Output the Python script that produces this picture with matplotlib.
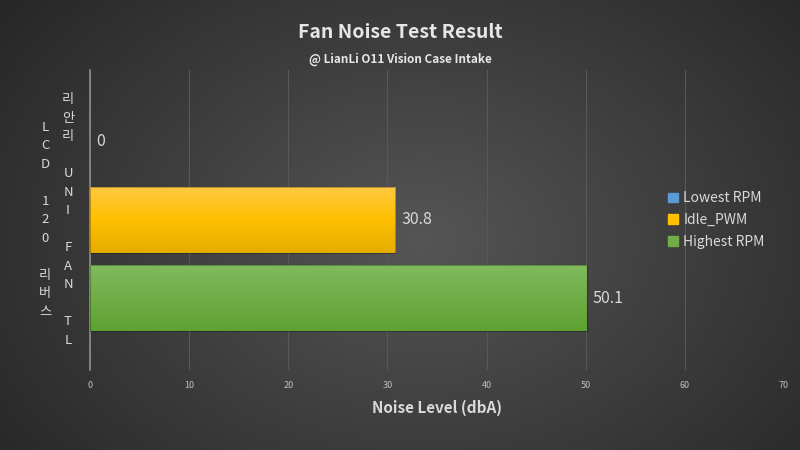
import numpy as np
import matplotlib.pyplot as plt
from matplotlib.colors import LinearSegmentedColormap

plt.rcParams['font.family'] = ['Noto Sans CJK KR', 'DejaVu Sans']

# Datos
category = "리안리 UNI FAN TL LCD 120 리버스"
series = ["Lowest RPM", "Idle_PWM", "Highest RPM"]
values = [0, 30.8, 50.1]
xticks = [0, 10, 20, 30, 40, 50, 60, 70]

# Colores (arriba, centro, abajo) del degradado de cada barra
colors = ["#5B9BD5", "#FFC000", "#70AD47"]
grads = [("#7fb3e3", "#5b9bd5", "#4a88c2"),
         ("#ffc845", "#ffc000", "#e6ad00"),
         ("#80bb5e", "#70ad47", "#5fa232")]
txt = "#d9d9d9"

fig = plt.figure(figsize=(8, 4.5), dpi=100)

# Fondo con degradado radial
bg = fig.add_axes([0, 0, 1, 1], zorder=-10)
yy, xx = np.mgrid[0:450, 0:800]
r = np.sqrt(((xx - 420) / 520) ** 2 + ((yy - 240) / 380) ** 2)
shade = np.clip(0.335 - 0.18 * r, 0.14, 0.35)
bg.imshow(np.dstack([shade] * 3), aspect='auto', extent=[0, 1, 0, 1])
bg.axis('off')

ax = fig.add_axes([0.1125, 0.1778, 0.8675, 0.6667])
ax.patch.set_alpha(0)

pos = np.arange(len(series))
bars = ax.barh(pos, values, height=0.85, color=colors, edgecolor='none', zorder=3)

# Degradado vertical dentro de cada barra
for b, g in zip(bars, grads):
    cmap = LinearSegmentedColormap.from_list('g', list(g))
    x0, y0 = b.get_x(), b.get_y()
    w, h = b.get_width(), b.get_height()
    if w <= 0:
        continue
    grad = np.linspace(0, 1, 100).reshape(-1, 1)
    im = ax.imshow(grad, cmap=cmap, aspect='auto', extent=[x0, x0 + w, y0 + h, y0],
                   zorder=4, interpolation='bilinear')
    im.set_clip_path(b)
    ax.add_patch(plt.Rectangle((x0, y0), w, h, fill=False, edgecolor='#00000040',
                               lw=0.8, zorder=5))

for p, v in zip(pos, values):
    ax.text(v + 0.6, p, f"{v:g}", va='center', ha='left', fontsize=11.5, color=txt, zorder=6)

ax.set_xlim(0, 70)
ax.set_ylim(2.92, -0.92)
ax.set_xticks(xticks)
ax.set_xticklabels([str(t) for t in xticks], fontsize=6.5, color='#bfbfbf')
ax.tick_params(axis='x', length=0, pad=8)
ax.set_yticks([])
ax.grid(axis='x', color='#585858', lw=0.8, zorder=0)
for s in ['top', 'right', 'bottom']:
    ax.spines[s].set_visible(False)
ax.spines['left'].set_color('#8c8c8c')
ax.spines['left'].set_linewidth(1.2)

ax.set_xlabel("Noise Level (dbA)", fontsize=11, fontweight='bold', color=txt, labelpad=7)

# Etiqueta de categoría en texto apilado (dos columnas)
words = category.split(" ")
col1 = "\n\n".join("\n".join(w) for w in words[:4])
col2 = "\n\n".join("\n".join(w) for w in words[4:])
tr = ax.get_yaxis_transform()
ax.text(-0.0317, 1, col1, transform=tr, ha='center', va='center', fontsize=9.5,
        color=txt, linespacing=1.55)
ax.text(-0.0648, 1, col2, transform=tr, ha='center', va='center', fontsize=9.5,
        color=txt, linespacing=1.55)

fig.text(0.5, 0.927, "Fan Noise Test Result", ha='center', va='center', fontsize=14,
         fontweight='bold', color='#e6e6e6')
fig.text(0.5, 0.868, "@ LianLi O11 Vision Case Intake", ha='center', va='center',
         fontsize=8.5, fontweight='bold', color='#e6e6e6')

handles = [plt.Rectangle((0, 0), 1, 1, color=c) for c in colors]
leg = ax.legend(handles, series, loc='center left', bbox_to_anchor=(0.815, 0.5),
                frameon=False, fontsize=10, labelcolor=txt, handlelength=0.7,
                handleheight=0.7, handletextpad=0.4, labelspacing=0.55)

fig.savefig("out.png", dpi=100)
